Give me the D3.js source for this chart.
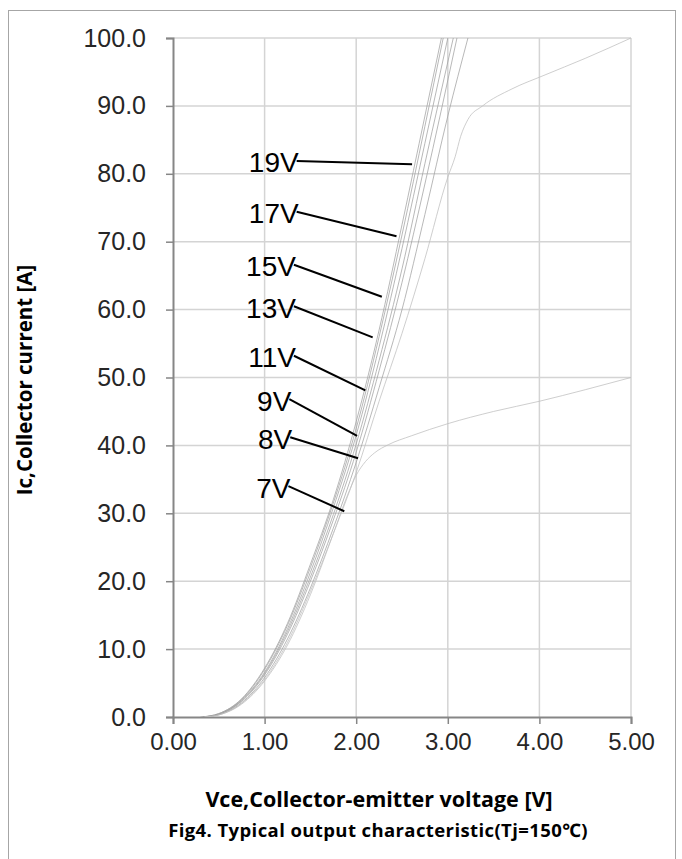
<!DOCTYPE html>
<html>
<head>
<meta charset="utf-8">
<script src="https://cdn.jsdelivr.net/npm/d3@7"></script>
<style>
  html, body { margin: 0; padding: 0; background: #fff; }
  svg { display: block; }
</style>
</head>
<body>
<svg id="chart" width="682" height="859"></svg>
<script>
// ---------------- DATA ----------------
const xTicks = [0, 1, 2, 3, 4, 5];
const yTicks = [0, 10, 20, 30, 40, 50, 60, 70, 80, 90, 100];
const xTickLabels = ["0.00", "1.00", "2.00", "3.00", "4.00", "5.00"];
const yTickLabels = ["0.0", "10.0", "20.0", "30.0", "40.0", "50.0", "60.0", "70.0", "80.0", "90.0", "100.0"];

// curves: [Vce (V), Ic (A)]
const curve19V = [[0.30,0],[0.50,0.5],[0.75,2.7],[1.00,7.2],[1.25,13.8],[1.50,22.5],[1.75,32],[2.00,43.5],[2.25,57],[2.50,72.5],[2.75,88.5],[2.93,100]];
const curve17V = [[0.32,0],[0.50,0.5],[0.75,2.6],[1.00,7.0],[1.25,13.5],[1.50,22],[1.75,31.5],[2.00,42.5],[2.25,56],[2.50,71],[2.75,87],[2.95,100]];
const curve15V = [[0.33,0],[0.50,0.4],[0.75,2.5],[1.00,6.6],[1.25,13],[1.50,21.3],[1.75,30.8],[2.00,41.5],[2.25,54.5],[2.50,69],[2.75,84.5],[3.00,100]];
const curve13V = [[0.33,0],[0.50,0.4],[0.75,2.4],[1.00,6.4],[1.25,12.6],[1.50,20.6],[1.75,29.8],[2.00,40.2],[2.25,52.5],[2.50,66],[2.75,81.5],[3.06,100]];
const curve11V = [[0.33,0],[0.50,0.4],[0.75,2.3],[1.00,6.2],[1.25,12.2],[1.50,20],[1.75,29],[2.00,39],[2.25,51],[2.50,64],[2.75,78.5],[3.10,100]];
const curve9V  = [[0.34,0],[0.50,0.35],[0.75,2.1],[1.00,5.8],[1.25,11.5],[1.50,19],[1.75,27.8],[2.00,37.5],[2.25,48.5],[2.50,60],[2.75,74],[3.00,88.5],[3.22,100]];
const curve8V  = [[0.34,0],[0.50,0.3],[0.75,2.0],[1.00,5.5],[1.25,11],[1.50,18.5],[1.75,27],[2.00,36],[2.25,46.5],[2.50,56.5],[2.75,67.5],[3.00,79.5],[3.08,82.5],[3.14,85.5],[3.22,88],[3.38,90],[3.70,92.5],[4.05,94.5],[4.50,97],[5.00,100]];
const curve7V  = [[0.35,0],[0.50,0.3],[0.75,1.9],[1.00,5.3],[1.25,10.6],[1.50,18],[1.75,27],[1.90,32.5],[2.00,35.6],[2.10,37.6],[2.20,38.9],[2.35,40.1],[2.60,41.4],[3.00,43.2],[3.50,45],[4.00,46.5],[4.50,48.2],[5.00,50]];

const seriesNames = ["19V", "17V", "15V", "13V", "11V", "9V", "8V", "7V"];
const seriesData  = [curve19V, curve17V, curve15V, curve13V, curve11V, curve9V, curve8V, curve7V];

// annotation leaders: label, start (Vce, Ic), end (Vce, Ic)
const labelNames   = ["19V", "17V", "15V", "13V", "11V", "9V", "8V", "7V"];
const labelStartV  = [1.35, 1.35, 1.32, 1.32, 1.32, 1.27, 1.28, 1.26];
const labelStartI  = [81.9, 74.4, 66.6, 60.5, 53.2, 46.8, 41.2, 34.0];
const labelEndV    = [2.61, 2.44, 2.28, 2.18, 2.10, 2.01, 2.02, 1.87];
const labelEndI    = [81.4, 70.8, 61.9, 55.9, 48.1, 41.4, 38.1, 30.3];

const xTitle = "Vce,Collector-emitter voltage [V]";
const yTitle = "Ic,Collector current [A]";
const caption = "Fig4. Typical output characteristic(Tj=150℃)";

// ---------------- DRAW ----------------
const svg = d3.select("#chart");
const plot = { left: 173, top: 38, right: 631, bottom: 717 };

const x = d3.scaleLinear().domain([0, 5]).range([plot.left, plot.right]);
const y = d3.scaleLinear().domain([0, 100]).range([plot.bottom, plot.top]);

// outer border
svg.append("rect")
  .attr("x", 8.5).attr("y", 10.5)
  .attr("width", 667).attr("height", 870)
  .attr("fill", "none").attr("stroke", "#a6a6a6").attr("stroke-width", 1);

const font = "'Liberation Sans', Arial, sans-serif";
const boldFont = "'Open Sans', 'Noto Sans', sans-serif";

// gridlines
const grid = svg.append("g");
grid.selectAll("line.h").data(yTicks.filter(d => d > 0)).join("line")
  .attr("x1", plot.left).attr("x2", plot.right)
  .attr("y1", d => y(d)).attr("y2", d => y(d))
  .attr("stroke", "#d4d4d4").attr("stroke-width", 1.5);
grid.selectAll("line.v").data(xTicks.filter(d => d > 0)).join("line")
  .attr("y1", plot.top).attr("y2", plot.bottom)
  .attr("x1", d => x(d)).attr("x2", d => x(d))
  .attr("stroke", "#d4d4d4").attr("stroke-width", 1.5);

// axes
const yAxis = d3.axisLeft(y).tickValues(yTicks).tickSize(7).tickPadding(20)
  .tickFormat((d, i) => yTickLabels[i]);
const gy = svg.append("g").attr("transform", `translate(${plot.left},0)`).call(yAxis);
gy.select(".domain").attr("stroke", "#868686").attr("stroke-width", 2);
gy.selectAll(".tick line").attr("stroke", "#868686").attr("stroke-width", 1.5);
gy.selectAll(".tick text").attr("font-family", font).attr("font-size", 25).attr("fill", "#262626");

const xAxis = d3.axisBottom(x).tickValues(xTicks).tickSize(7).tickPadding(9)
  .tickFormat((d, i) => xTickLabels[i]);
const gx = svg.append("g").attr("transform", `translate(0,${plot.bottom})`).call(xAxis);
gx.select(".domain").attr("stroke", "#868686").attr("stroke-width", 2);
gx.selectAll(".tick line").attr("stroke", "#868686").attr("stroke-width", 1.5);
gx.selectAll(".tick text").attr("font-family", font).attr("font-size", 24).attr("fill", "#262626");

// curves
svg.append("clipPath").attr("id", "clip").append("rect")
  .attr("x", plot.left).attr("y", plot.top - 1)
  .attr("width", plot.right - plot.left + 1).attr("height", plot.bottom - plot.top + 1);

const line = d3.line().x(d => x(d[0])).y(d => y(d[1])).curve(d3.curveMonotoneX);
svg.append("g").attr("clip-path", "url(#clip)")
  .selectAll("path").data(seriesData).join("path")
  .attr("d", line)
  .attr("fill", "none")
  .attr("stroke", (d, i) => i >= 6 ? "#bdbdbd" : "#a0a0a0")
  .attr("stroke-width", 0.75);

// leaders & labels
const ann = svg.append("g");
ann.selectAll("line").data(labelNames).join("line")
  .attr("x1", (d, i) => x(labelStartV[i])).attr("y1", (d, i) => y(labelStartI[i]))
  .attr("x2", (d, i) => x(labelEndV[i])).attr("y2", (d, i) => y(labelEndI[i]))
  .attr("stroke", "#000").attr("stroke-width", 2);
ann.selectAll("text").data(labelNames).join("text")
  .attr("x", (d, i) => x(labelStartV[i]) + 2)
  .attr("y", (d, i) => y(labelStartI[i]) + 2)
  .attr("text-anchor", "end").attr("dominant-baseline", "central")
  .attr("font-family", font).attr("font-size", 28).attr("fill", "#000")
  .text(d => d);

// titles
svg.append("text")
  .attr("x", 379).attr("y", 807)
  .attr("text-anchor", "middle")
  .attr("font-family", boldFont).attr("font-weight", "bold").attr("font-size", 21.5)
  .attr("fill", "#000").text(xTitle);
svg.append("text")
  .attr("transform", "translate(32,380) rotate(-90)")
  .attr("text-anchor", "middle")
  .attr("font-family", boldFont).attr("font-weight", "bold").attr("font-size", 20.5)
  .attr("fill", "#000").text(yTitle);
svg.append("text")
  .attr("x", 378).attr("y", 837)
  .attr("text-anchor", "middle")
  .attr("font-family", boldFont).attr("font-weight", "bold").attr("font-size", 18.5)
  .attr("letter-spacing", 0.4)
  .attr("fill", "#000").text(caption);
</script>
</body>
</html>
